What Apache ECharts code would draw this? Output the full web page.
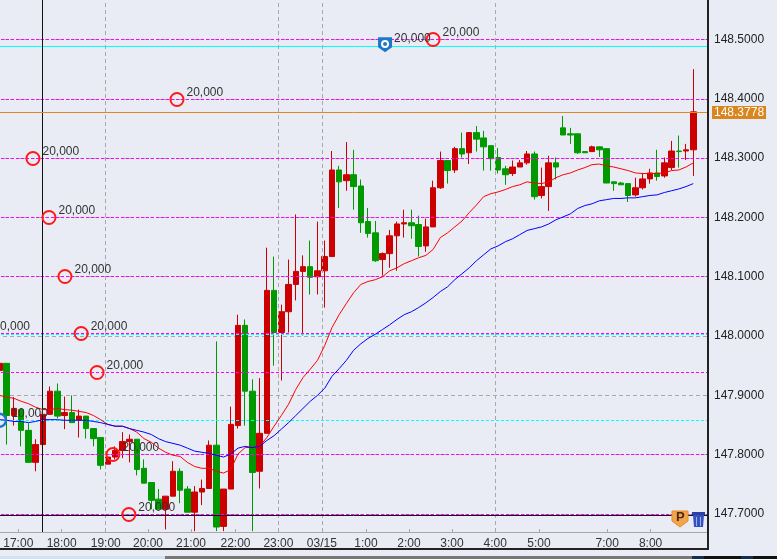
<!DOCTYPE html>
<html>
<head>
<meta charset="utf-8">
<style>
  html, body { margin: 0; padding: 0; background: #E9ECF5; overflow: hidden; }
  #main { width: 777px; height: 559px; }
</style>
<script src="https://cdn.jsdelivr.net/npm/echarts@6/dist/echarts.min.js"></script>
</head>
<body>
<div id="main"></div>
<script>
// 10 minute bars, 97 of them
const opens = [
  147.942, 147.954, 147.866, 147.876, 147.841, 147.787, 147.817, 147.868, 147.907, 147.866,
  147.871, 147.858, 147.865, 147.844, 147.829, 147.784, 147.796, 147.807, 147.822, 147.826,
  147.777, 147.753, 147.725, 147.708, 147.730, 147.772, 147.742, 147.703, 147.737, 147.743,
  147.816, 147.679, 147.742, 147.849, 148.018, 147.907, 147.772, 147.836, 148.077, 148.006,
  148.041, 148.087, 148.109, 148.117, 148.100, 148.110, 148.134, 148.280, 148.262, 148.272,
  148.253, 148.193, 148.174, 148.129, 148.139, 148.169, 148.189, 148.191, 148.188, 148.152,
  148.184, 148.250, 148.296, 148.280, 148.316, 148.309, 148.343, 148.334, 148.321, 148.301,
  148.282, 148.274, 148.285, 148.292, 148.307, 148.237, 148.252, 148.292, 148.351, 148.341,
  148.341, 148.311, 148.311, 148.319, 148.316, 148.260, 148.258, 148.257, 148.238, 148.250,
  148.265, 148.275, 148.270, 148.284, 148.312, 148.312, 148.314
];
const closes = [
  147.954, 147.866, 147.878, 147.841, 147.787, 147.817, 147.868, 147.907, 147.865, 147.871,
  147.854, 147.865, 147.844, 147.827, 147.782, 147.796, 147.807, 147.822, 147.826, 147.775,
  147.752, 147.723, 147.708, 147.730, 147.772, 147.740, 147.703, 147.737, 147.743, 147.816,
  147.678, 147.742, 147.851, 148.018, 147.907, 147.770, 147.836, 148.077, 148.006, 148.041,
  148.087, 148.109, 148.117, 148.099, 148.110, 148.134, 148.280, 148.260, 148.272, 148.252,
  148.191, 148.173, 148.127, 148.139, 148.169, 148.189, 148.191, 148.186, 148.151, 148.184,
  148.250, 148.296, 148.279, 148.316, 148.307, 148.343, 148.332, 148.319, 148.299, 148.280,
  148.272, 148.285, 148.292, 148.307, 148.235, 148.252, 148.292, 148.285, 148.339, 148.339,
  148.309, 148.309, 148.319, 148.314, 148.258, 148.257, 148.255, 148.237, 148.250, 148.265,
  148.275, 148.269, 148.292, 148.312, 148.311, 148.314, 148.378
];
const lows = [
  147.942, 147.817, 147.849, 147.814, 147.787, 147.772, 147.817, 147.868, 147.861, 147.843,
  147.854, 147.829, 147.827, 147.814, 147.775, 147.784, 147.792, 147.794, 147.787, 147.765,
  147.752, 147.708, 147.708, 147.674, 147.730, 147.718, 147.703, 147.671, 147.715, 147.743,
  147.671, 147.671, 147.742, 147.844, 147.849, 147.671, 147.743, 147.836, 147.950, 147.925,
  148.006, 148.060, 148.001, 148.070, 148.070, 148.048, 148.134, 148.216, 148.245, 148.213,
  148.174, 148.166, 148.125, 148.102, 148.115, 148.110, 148.166, 148.164, 148.134, 148.142,
  148.184, 148.248, 148.257, 148.275, 148.301, 148.290, 148.311, 148.279, 148.279, 148.274,
  148.255, 148.270, 148.285, 148.289, 148.230, 148.232, 148.211, 148.264, 148.339, 148.324,
  148.307, 148.309, 148.311, 148.302, 148.258, 148.245, 148.255, 148.226, 148.235, 148.247,
  148.257, 148.262, 148.267, 148.280, 148.284, 148.297, 148.270
];
const highs = [
  147.954, 147.954, 147.897, 147.876, 147.853, 147.826, 147.876, 147.915, 147.920, 147.898,
  147.900, 147.876, 147.865, 147.844, 147.829, 147.796, 147.814, 147.838, 147.834, 147.826,
  147.792, 147.753, 147.742, 147.730, 147.789, 147.777, 147.747, 147.747, 147.758, 147.824,
  147.991, 147.742, 147.881, 148.036, 148.028, 147.927, 147.929, 148.149, 148.134, 148.053,
  148.129, 148.205, 148.136, 148.161, 148.193, 148.161, 148.312, 148.287, 148.327, 148.314,
  148.264, 148.216, 148.194, 148.141, 148.179, 148.193, 148.213, 148.213, 148.203, 148.198,
  148.262, 148.311, 148.296, 148.319, 148.343, 148.344, 148.354, 148.346, 148.321, 148.317,
  148.287, 148.296, 148.297, 148.312, 148.311, 148.284, 148.304, 148.301, 148.371, 148.351,
  148.341, 148.312, 148.321, 148.319, 148.316, 148.260, 148.260, 148.257, 148.267, 148.275,
  148.282, 148.314, 148.301, 148.329, 148.338, 148.324, 148.450
];
// moving averages, one per bar
const redAverage = [
  147.900, 147.897, 147.895, 147.890, 147.886, 147.880, 147.876, 147.876, 147.878, 147.876,
  147.875, 147.873, 147.871, 147.866, 147.859, 147.851, 147.848, 147.848, 147.844, 147.838,
  147.827, 147.821, 147.811, 147.804, 147.799, 147.797, 147.787, 147.780, 147.777, 147.777,
  147.772, 147.769, 147.775, 147.801, 147.812, 147.812, 147.814, 147.829, 147.848, 147.866,
  147.885, 147.910, 147.930, 147.944, 147.959, 147.984, 148.014, 148.036, 148.055, 148.073,
  148.087, 148.092, 148.095, 148.100, 148.110, 148.115, 148.122, 148.127, 148.132, 148.136,
  148.146, 148.166, 148.174, 148.184, 148.194, 148.208, 148.221, 148.235, 148.240, 148.243,
  148.247, 148.252, 148.255, 148.260, 148.258, 148.257, 148.260, 148.267, 148.272, 148.275,
  148.280, 148.284, 148.289, 148.290, 148.287, 148.285, 148.282, 148.279, 148.275, 148.274,
  148.274, 148.274, 148.275, 148.279, 148.280, 148.285, 148.292
];
const blueAverage = [
  147.859, 147.858, 147.856, 147.856, 147.854, 147.856, 147.859, 147.859, 147.859, 147.858,
  147.858, 147.858, 147.858, 147.856, 147.854, 147.851, 147.848, 147.848, 147.844, 147.841,
  147.838, 147.834, 147.827, 147.822, 147.819, 147.816, 147.811, 147.806, 147.804, 147.802,
  147.799, 147.796, 147.801, 147.811, 147.814, 147.812, 147.814, 147.824, 147.832, 147.843,
  147.854, 147.866, 147.878, 147.890, 147.900, 147.912, 147.932, 147.945, 147.959, 147.976,
  147.987, 147.996, 148.003, 148.011, 148.019, 148.028, 148.036, 148.041, 148.048, 148.056,
  148.065, 148.075, 148.083, 148.095, 148.105, 148.115, 148.127, 148.137, 148.147, 148.152,
  148.159, 148.164, 148.171, 148.178, 148.181, 148.184, 148.189, 148.196, 148.201, 148.206,
  148.215, 148.220, 148.223, 148.228, 148.230, 148.232, 148.232, 148.233, 148.233, 148.235,
  148.237, 148.238, 148.242, 148.245, 148.248, 148.252, 148.257
];

// x axis, in bars
const timeLabels = ['17:00', '18:00', '19:00', '20:00', '21:00', '22:00', '23:00', '03/15', '1:00', '2:00', '3:00', '4:00', '5:00', '7:00', '8:00'];
const timeTicks = [2.6, 8.6, 14.7, 20.55, 26.5, 32.66, 38.6, 44.6, 50.7, 56.65, 62.6, 68.6, 74.65, 84.1, 90.1];
const periodLines = [14.67, 38.61, 44.7, 68.64];
const cursorBar = 5.95;

// y axis
const priceTicks = [147.7, 147.8, 147.9, 148.0, 148.1, 148.2, 148.3, 148.4, 148.5];
const lastPrice = 148.3778;
const lastLevel = 148.3769;

// ladder of orders, each with its own level
const orderBars = [4.63, 6.85, 9.06, 11.3, 13.5, 15.7, 17.9, 24.56, 60];
const orderPrices = [148.29936, 148.19988, 148.1004, 148.0043, 147.93854, 147.80029, 147.69912, 148.39884, 148.5];
const orderSize = '20,000';
const cyanSolid = [148.4882];
const cyanDashed = [148.0026, 147.8576];
const stopLine = 147.6974;

const chart = echarts.init(document.getElementById('main'));

const hline = (y, color, type) => ({ yAxis: y, lineStyle: { color, type, width: 1 } });

chart.setOption({
  backgroundColor: '#E9ECF5',
  animation: false,
  textStyle: { fontFamily: '"Liberation Sans", Arial, sans-serif' },
  grid: { left: -4, width: 712, top: 0, height: 532, outerBoundsMode: 'none' },
  xAxis: {
    type: 'value',
    min: -0.484,
    max: 98.04,
    splitLine: { show: false },
    axisLine: { lineStyle: { color: '#A8A8A8', width: 1 } },
    axisTick: { inside: true, length: 3, lineStyle: { color: '#A8A8A8' }, customValues: timeTicks },
    axisLabel: {
      customValues: timeTicks,
      margin: 6,
      fontSize: 12,
      color: '#333',
      formatter: (v) => timeLabels[timeTicks.indexOf(v)]
    }
  },
  yAxis: {
    type: 'value',
    position: 'right',
    min: 147.6696,
    max: 148.5666,
    axisLine: { show: false },
    axisTick: { show: false, customValues: priceTicks },
    axisLabel: {
      customValues: priceTicks,
      margin: 6,
      fontSize: 12,
      color: '#222',
      formatter: (v) => v.toFixed(4)
    },
    splitLine: { show: true, lineStyle: { color: '#A8A8A8', type: [4, 3], width: 1 } }
  },
  series: [
    {
      name: 'period',
      type: 'line',
      data: [],
      z: 1,
      markLine: {
        silent: true,
        symbol: 'none',
        precision: 5,
        label: { show: false },
        lineStyle: { color: '#A8A8A8', type: [4, 3], width: 1 },
        data: periodLines.map((x) => ({ xAxis: x }))
      }
    },
    {
      name: 'candles',
      type: 'candlestick',
      z: 2,
      barWidth: 6,
      encode: { x: 0, y: [1, 2, 3, 4] },
      clip: true,
      itemStyle: { color: '#CC0000', borderColor: '#CC0000', color0: '#009900', borderColor0: '#009900', borderWidth: 1 },
      data: opens.map((o, i) => [i, o, closes[i], lows[i], highs[i]])
    },
    {
      name: 'levels',
      type: 'line',
      data: [],
      z: 3,
      markLine: {
        silent: true,
        symbol: 'none',
        precision: 5,
        label: { show: false },
        data: [
          ...orderPrices.map((y) => hline(y, '#FF00FF', [3, 2])),
          ...cyanSolid.map((y) => hline(y, '#00FFFF', 'solid')),
          ...cyanDashed.map((y) => hline(y, '#00FFFF', [3, 2])),
          hline(stopLine, '#111', 'solid'),
          { xAxis: cursorBar, lineStyle: { color: '#111', type: 'solid', width: 1 } }
        ]
      }
    },
    {
      name: 'last',
      type: 'line',
      data: [],
      z: 4,
      markLine: {
        silent: true,
        symbol: 'none',
        precision: 5,
        lineStyle: { color: '#E08A1E', type: 'solid', width: 1 },
        label: {
          show: true,
          position: 'end',
          distance: 4,
          formatter: lastPrice.toFixed(4),
          color: '#fff',
          fontSize: 12,
          backgroundColor: '#D9861E',
          padding: [1, 2, 0, 2]
        },
        data: [{ yAxis: lastLevel }]
      }
    },
    {
      name: 'red average',
      type: 'line',
      z: 5,
      showSymbol: false,
      symbol: 'none',
      lineStyle: { color: '#FF0000', width: 1 },
      data: redAverage.map((v, i) => [i, v])
    },
    {
      name: 'blue average',
      type: 'line',
      z: 5,
      showSymbol: false,
      symbol: 'none',
      lineStyle: { color: '#0000FF', width: 1 },
      data: blueAverage.map((v, i) => [i, v])
    },
    {
      name: 'orders',
      type: 'scatter',
      z: 6,
      symbolSize: 13,
      itemStyle: { color: 'rgba(0,0,0,0)', borderColor: '#FF1A1A', borderWidth: 2, opacity: 1 },
      label: {
        show: true,
        position: 'right',
        distance: 2,
        offset: [0, -7],
        formatter: orderSize,
        fontSize: 12,
        color: '#333'
      },
      data: orderBars.map((x, i) => [x, orderPrices[i]])
    },
    {
      name: 'position pin',
      type: 'scatter',
      z: 6,
      symbol: 'path://M0 0H14V10L7 15L0 10Z',
      symbolSize: [14, 15],
      itemStyle: { color: '#1E78C8', opacity: 1 },
      label: {
        show: true,
        position: 'right',
        distance: 2,
        offset: [0, -6],
        formatter: orderSize,
        fontSize: 12,
        color: '#333'
      },
      data: [[53.35, 148.491]]
    },
    {
      name: 'pin eye',
      type: 'scatter',
      z: 7,
      symbolSize: 6,
      itemStyle: { color: '#1E78C8', borderColor: '#fff', borderWidth: 2, opacity: 1 },
      data: [[53.35, 148.4925]]
    },
    {
      name: 'open position',
      type: 'scatter',
      z: 6,
      symbolSize: 13,
      itemStyle: { color: 'rgba(0,0,0,0)', borderColor: '#1E78C8', borderWidth: 2.5, opacity: 1 },
      label: {
        show: true,
        position: 'right',
        distance: 4,
        offset: [0, -7],
        formatter: '10,000',
        fontSize: 12,
        color: '#333'
      },
      data: [[0, 147.858]]
    }
  ],
  graphic: [
    // frame round the plot
    { type: 'rect', silent: true, z: 20, shape: { x: 707, y: 0, width: 2, height: 550 }, style: { fill: '#222' } },
    { type: 'rect', silent: true, z: 20, shape: { x: 0, y: 548, width: 709, height: 2 }, style: { fill: '#222' } },
    // label of an order whose circle is scrolled off the left edge
    { type: 'text', silent: true, z: 20, x: 0, y: 321, style: { text: '0,000', fontSize: 12, fontFamily: '"Liberation Sans", Arial, sans-serif', fill: '#333' } },
    // close and delete buttons
    { type: 'polygon', silent: true, z: 20, shape: { points: [[672, 511], [688, 511], [688, 521], [680, 527], [672, 521]] }, style: { fill: '#F2A64B', stroke: '#E88A1E' } },
    { type: 'text', silent: true, z: 21, x: 676, y: 511, style: { text: 'P', fontSize: 13, fontWeight: 'bold', fontFamily: '"Liberation Sans", Arial, sans-serif', fill: '#4A2A10' } },
    { type: 'rect', silent: true, z: 20, shape: { x: 692, y: 512, width: 13, height: 3 }, style: { fill: '#2B3FA8' } },
    { type: 'polygon', silent: true, z: 20, shape: { points: [[693, 515], [704, 515], [703, 527], [694, 527]] }, style: { fill: '#3550C0' } },
    { type: 'rect', silent: true, z: 21, shape: { x: 696, y: 517, width: 1, height: 9 }, style: { fill: '#9FB0E8' } },
    { type: 'rect', silent: true, z: 21, shape: { x: 700, y: 517, width: 1, height: 9 }, style: { fill: '#9FB0E8' } },
    // taskbar strip along the bottom
    { type: 'rect', silent: true, z: 20, shape: { x: 0, y: 556, width: 692, height: 3 }, style: { fill: '#777' } },
    { type: 'rect', silent: true, z: 21, shape: { x: 0, y: 556, width: 165, height: 3 }, style: { fill: '#CFE3F5' } },
    { type: 'rect', silent: true, z: 20, shape: { x: 692, y: 556, width: 12, height: 3 }, style: { fill: '#0F2F55' } },
    { type: 'rect', silent: true, z: 20, shape: { x: 704, y: 556, width: 37, height: 3 }, style: { fill: '#111' } },
    { type: 'rect', silent: true, z: 20, shape: { x: 741, y: 556, width: 12, height: 3 }, style: { fill: '#0F2F55' } },
    { type: 'rect', silent: true, z: 20, shape: { x: 753, y: 556, width: 24, height: 3 }, style: { fill: '#111' } }
  ]
});
</script>
</body>
</html>
